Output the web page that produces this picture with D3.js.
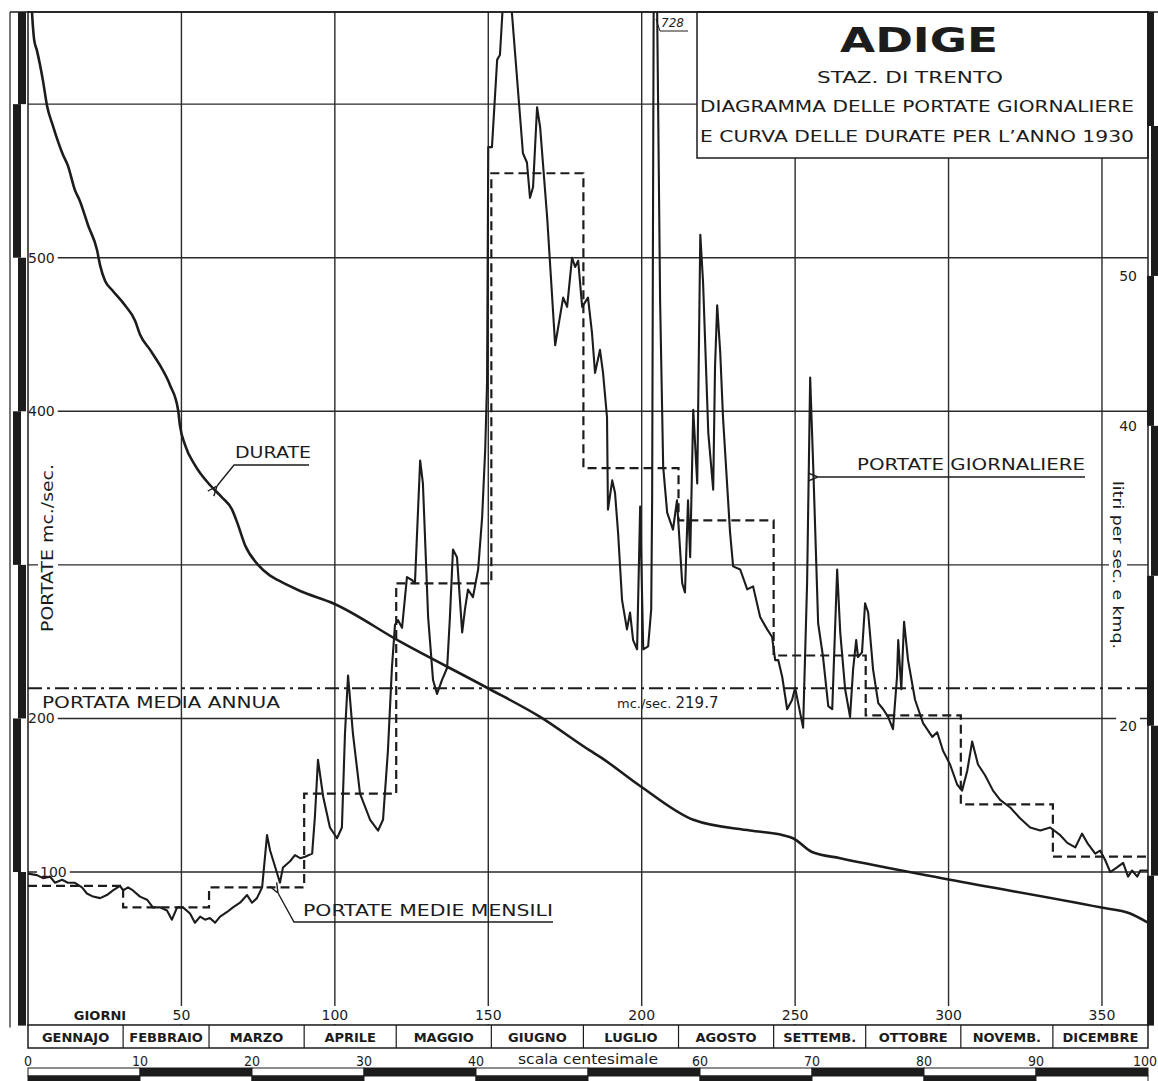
<!DOCTYPE html>
<html>
<head>
<meta charset="utf-8">
<script src="https://cdn.jsdelivr.net/npm/d3@7"></script>
<style>
  html, body { margin: 0; padding: 0; background: #fff; }
  svg { display: block; }
  text { font-family: 'DejaVu Sans', sans-serif; fill: #1c1c1c; }
</style>
</head>
<body>
<div id="chart"></div>
<script>
// Daily discharge (portate giornaliere): day of year / m3/s
const dailyDays = [0, 2.9, 4.9, 7.2, 8.8, 11.1, 13, 15.3, 17.6, 19.2, 21.2, 23.5, 25.7, 27.7, 30, 31, 32.6, 34.2, 36.5, 38.8,
  40.7, 43, 45.3, 46.9, 48.6, 50.5, 52.8, 54.4, 56.1, 57.7, 59.3, 61, 62.6, 64.9, 66.8, 69.1, 71.4, 73, 74.6, 76.3,
  77.9, 78.9, 81.2, 82.1, 83.1, 85.4, 87, 88.7, 90.3, 92.6, 93.5, 94.5, 96.2, 98.4, 100.7, 102.3, 103.3, 104.3, 105.9, 108.2,
  111.5, 114.1, 115.7, 117.3, 118.6, 119.6, 120.6, 121.9, 123.5, 125.2, 126.1, 127.8, 128.7, 130.4, 132, 133.3, 134.9, 136.6, 137.5, 138.5,
  139.8, 141.5, 142.4, 143.4, 145, 146.7, 148, 149, 149.6, 150, 151.2, 152.9, 153.8, 155.5, 156.5, 161.3, 162.6, 163.6, 164.6, 165.9,
  166.9, 169.2, 171.8, 174.4, 175.7, 177.3, 178.3, 179.3, 180.6, 182.5, 183.8, 184.8, 186.4, 187.4, 188.7, 189, 190.4, 191.3, 192.3, 193.6,
  195.2, 196.2, 197.2, 198.5, 199.5, 200.5, 202.1, 203.1, 203.4, 204, 205, 206, 207, 208.3, 210.2, 211.5, 211.9, 213.2, 214.1, 215.1,
  215.8, 216.8, 218.1, 219.1, 220, 221.7, 223.3, 223.9, 224.6, 225.6, 226.5, 228.8, 229.8, 232.1, 234.4, 236.3, 238.6, 240.9, 242.5, 243.5,
  244.5, 245.8, 247.4, 249, 250, 251, 252.6, 253.9, 254.9, 255.9, 257.5, 259.1, 260.8, 262.1, 263.7, 264.7, 266.3, 267.9, 268.9, 269.9,
  270.5, 271.8, 272.8, 273.8, 275.4, 277.1, 278.7, 280.3, 281.9, 283.2, 283.6, 284.6, 285.5, 286.8, 289.1, 291.7, 294.7, 296.3, 298.2, 300.5,
  302.8, 304.4, 306.1, 307.7, 309.6, 311.9, 314.5, 316.8, 320.1, 323.3, 326.6, 329.9, 333.1, 336.4, 338.7, 341.3, 343.5, 345.2, 347.8, 349.4,
  351, 352.7, 354.9, 356.9, 358.5, 359.8, 361.5, 362.5, 365];
const dailyFlow = [99, 98, 96, 97, 93, 95, 93, 93, 90, 86, 84, 83, 85, 88, 91, 88, 90, 88, 84, 82,
  77, 77, 75, 69, 77, 77, 73, 67, 71, 69, 70, 67, 71, 74, 77, 80, 85, 80, 83, 90,
  124, 114, 99, 93, 103, 107, 111, 109, 110, 112, 136, 173, 149, 129, 122, 129, 190, 228, 190, 151,
  134, 127, 134, 179, 233, 261, 264, 259, 292, 290, 288, 368, 353, 266, 225, 216, 225, 233, 266, 310,
  305, 256, 271, 284, 279, 297, 331, 375, 418, 572, 572, 629, 632, 690, 690, 568, 562, 539, 546, 598,
  585, 526, 443, 474, 468, 500, 494, 498, 468, 474, 451, 425, 440, 425, 396, 336, 355, 347, 321, 277,
  258, 269, 251, 245, 338, 245, 247, 271, 342, 728, 668, 472, 364, 334, 323, 342, 329, 288, 282, 342,
  305, 401, 353, 515, 484, 386, 349, 429, 469, 438, 396, 321, 299, 297, 284, 286, 266, 258, 253, 238,
  238, 227, 206, 212, 220, 210, 194, 288, 422, 364, 262, 240, 208, 206, 297, 256, 219, 201, 232, 251,
  240, 243, 275, 269, 232, 210, 206, 201, 193, 227, 251, 219, 263, 238, 212, 197, 188, 191, 179, 170,
  157, 153, 166, 185, 170, 163, 153, 147, 142, 135, 129, 127, 129, 124, 119, 116, 125, 119, 112, 114,
  108, 100, 103, 106, 97, 101, 97, 101, 101];

// Flow-duration curve (curva delle durate): days exceeded / m3/s
const durDays = [0, 1.3, 2, 2.9, 4.9, 6.2, 8.1, 11.4, 13, 15.3, 16.9, 19.6, 22.5, 23.5, 25.1, 27.4, 31.6, 34.9, 36.5, 39.8,
  43, 46.3, 48.9, 49.5, 51.2, 54.4, 59.3, 63.2, 66.5, 68.1, 70.7, 75, 78.9, 81.5, 88.7, 99.4, 121.3, 149.6, 166.9, 183.2,
  186.4, 199.5, 216.8, 235.3, 246.1, 249.3, 255.5, 264.7, 300.5, 349.4, 359.2, 365];
const durFlow = [728, 660, 642, 635, 615, 599, 586, 567, 560, 544, 537, 521, 505, 495, 485, 479, 469, 459, 450, 440,
  430, 417, 401, 391, 378, 365, 352, 344, 336, 328, 313, 300, 293, 290, 283, 275, 250, 220, 201, 179,
  175, 156, 134, 127, 124, 122, 113, 109, 95, 77, 73, 67];

// Monthly means (portate medie mensili)
const months = ['GENNAJO', 'FEBBRAIO', 'MARZO', 'APRILE', 'MAGGIO', 'GIUGNO', 'LUGLIO', 'AGOSTO', 'SETTEMB.', 'OTTOBRE', 'NOVEMB.', 'DICEMBRE'];
const monthStart = [0, 31, 59, 90, 120, 151, 181, 212, 243, 273, 304, 334];
const monthEnd = [31, 59, 90, 120, 151, 181, 212, 243, 273, 304, 334, 365];
const monthMean = [91, 77, 90, 151, 288, 555, 363, 329, 241, 202, 144, 110];

const annualMean = 219.7;
const basinArea = 9763; // km2, for the right hand scale

const dayTicks = [50, 100, 150, 200, 250, 300, 350];
const flowGrid = [100, 200, 300, 400, 500, 600];
const flowLabels = [100, 200, 400, 500];
const specLabels = [20, 40, 50];
const centLabels = [0, 10, 20, 30, 40, 60, 70, 80, 90, 100];

const W = 1158, H = 1081;
const ink = '#1c1c1c';
const plot = { left: 28, right: 1148, top: 12, bottom: 1025.6 };

const x = d3.scaleLinear().domain([0, 365]).range([plot.left, plot.right]);
const y = d3.scaleLinear().domain([0, 660]).range([plot.bottom, plot.top]);
const ySpec = d3.scaleLinear().domain([0, 660 * 1000 / basinArea]).range([plot.bottom, plot.top]);
const xCent = d3.scaleLinear().domain([0, 100]).range([plot.left, plot.right]);

const svg = d3.select('#chart').append('svg')
  .attr('width', W)
  .attr('height', H);

svg.append('rect').attr('width', W).attr('height', H).attr('fill', '#fff');

const defs = svg.append('defs');
defs.append('clipPath').attr('id', 'plotClip')
  .append('rect')
  .attr('x', plot.left).attr('y', plot.top)
  .attr('width', plot.right - plot.left).attr('height', plot.bottom - plot.top);

defs.append('marker')
  .attr('id', 'arrow')
  .attr('viewBox', '0 0 10 10')
  .attr('refX', 0).attr('refY', 5)
  .attr('markerWidth', 10).attr('markerHeight', 10)
  .attr('markerUnits', 'userSpaceOnUse')
  .attr('orient', 'auto-start-reverse')
  .append('path')
  .attr('d', 'M10,1 L0,5 L10,9')
  .attr('fill', 'none')
  .attr('stroke', ink)
  .attr('stroke-width', 1.4);

// Grid
const grid = svg.append('g').attr('stroke', '#2a2a2a').attr('stroke-width', 1.4);
grid.selectAll('.vgrid')
  .data(dayTicks)
  .enter().append('line')
  .attr('x1', d => x(d)).attr('x2', d => x(d))
  .attr('y1', plot.top).attr('y2', plot.bottom);
grid.selectAll('.hgrid')
  .data(flowGrid)
  .enter().append('line')
  .attr('x1', plot.left).attr('x2', plot.right)
  .attr('y1', d => y(d)).attr('y2', d => y(d));

// Title box
const tb = svg.append('g');
tb.append('rect')
  .attr('x', 697).attr('y', plot.top)
  .attr('width', plot.right - 697).attr('height', 146)
  .attr('fill', '#fff').attr('stroke', ink).attr('stroke-width', 1.5);
tb.append('text')
  .attr('x', 919).attr('y', 52)
  .attr('text-anchor', 'middle')
  .attr('textLength', 158).attr('lengthAdjust', 'spacingAndGlyphs')
  .style('font-size', '34px').style('font-weight', 'bold')
  .text('ADIGE');
tb.append('text')
  .attr('x', 910).attr('y', 83)
  .attr('text-anchor', 'middle')
  .attr('textLength', 186).attr('lengthAdjust', 'spacingAndGlyphs')
  .style('font-size', '15px')
  .text('STAZ. DI  TRENTO');
tb.append('text')
  .attr('x', 917).attr('y', 112)
  .attr('text-anchor', 'middle')
  .attr('textLength', 434).attr('lengthAdjust', 'spacingAndGlyphs')
  .style('font-size', '15px')
  .text('DIAGRAMMA DELLE PORTATE GIORNALIERE');
tb.append('text')
  .attr('x', 917).attr('y', 142)
  .attr('text-anchor', 'middle')
  .attr('textLength', 434).attr('lengthAdjust', 'spacingAndGlyphs')
  .style('font-size', '15px')
  .text('E CURVA DELLE DURATE PER L\u2019ANNO 1930');

// Axis labels with a white patch under them, as on the plate
function labelWithPatch(g, tx, ty, str, opts) {
  const t = g.append('text')
    .attr('x', tx).attr('y', ty)
    .attr('text-anchor', opts.anchor || 'start')
    .attr('dominant-baseline', 'central')
    .style('font-size', opts.size || '14px')
    .style('font-weight', opts.weight || 'normal')
    .text(str);
  if (opts.rotate) t.attr('transform', `rotate(${opts.rotate},${tx},${ty})`);
  if (opts.len) t.attr('textLength', opts.len).attr('lengthAdjust', 'spacingAndGlyphs');
  const bb = t.node().getBBox();
  const pad = 3;
  let r = g.insert('rect', 'text')
    .attr('x', bb.x - pad).attr('y', bb.y - 1)
    .attr('width', bb.width + pad * 2).attr('height', bb.height + 2)
    .attr('fill', '#fff');
  if (opts.rotate) r.attr('transform', `rotate(${opts.rotate},${tx},${ty})`);
  return t;
}

const labels = svg.append('g');
flowLabels.forEach(v => labelWithPatch(labels, v === 100 ? 40 : 28, y(v), String(v), { size: '14px' }));
specLabels.forEach(v => labelWithPatch(labels, 1137, ySpec(v), String(v), { size: '14px', anchor: 'end' }));
dayTicks.forEach(d => labelWithPatch(labels, x(d), 1015, String(d), { size: '14px', anchor: 'middle' }));
labelWithPatch(labels, 100, 1015, 'GIORNI', { size: '13px', weight: 'bold', anchor: 'middle' });
labelWithPatch(labels, 48, 548, 'PORTATE  mc./sec.', { size: '15px', anchor: 'middle', rotate: -90, len: 168 });
labelWithPatch(labels, 1118, 565, 'litri per sec. e kmq.', { size: '14px', anchor: 'middle', rotate: 90, len: 168 });

// Data
const data = svg.append('g').attr('clip-path', 'url(#plotClip)').attr('fill', 'none');

data.append('line')
  .attr('x1', plot.left).attr('x2', plot.right)
  .attr('y1', y(annualMean)).attr('y2', y(annualMean))
  .attr('stroke', ink).attr('stroke-width', 2)
  .attr('stroke-dasharray', '14,5,3,5');

const monthPts = [];
months.forEach((m, i) => {
  monthPts.push([monthStart[i], monthMean[i]]);
  monthPts.push([monthEnd[i], monthMean[i]]);
});
const line = d3.line().x(d => x(d[0])).y(d => y(d[1]));

data.append('path')
  .attr('d', line(monthPts))
  .attr('stroke', ink).attr('stroke-width', 2.2)
  .attr('stroke-dasharray', '9,5');

data.append('path')
  .attr('d', line.curve(d3.curveMonotoneX)(durDays.map((d, i) => [d, durFlow[i]])))
  .attr('stroke', ink).attr('stroke-width', 2.6)
  .attr('stroke-linejoin', 'round');
line.curve(d3.curveLinear);

data.append('path')
  .attr('d', line(dailyDays.map((d, i) => [d, dailyFlow[i]])))
  .attr('stroke', ink).attr('stroke-width', 2.1)
  .attr('stroke-linejoin', 'round');

// Annotations
const ann = svg.append('g');
ann.append('text').attr('x', 235).attr('y', 458)
  .attr('textLength', 76).attr('lengthAdjust', 'spacingAndGlyphs')
  .style('font-size', '15px').text('DURATE');
ann.append('path')
  .attr('d', 'M217,486 L234,465 L309,465')
  .attr('fill', 'none').attr('stroke', ink).attr('stroke-width', 1.4)
  .attr('marker-start', 'url(#arrow)');

ann.append('text').attr('x', 857).attr('y', 470)
  .attr('textLength', 228).attr('lengthAdjust', 'spacingAndGlyphs')
  .style('font-size', '15px').text('PORTATE GIORNALIERE');
ann.append('path')
  .attr('d', 'M818,477 L1085,477')
  .attr('fill', 'none').attr('stroke', ink).attr('stroke-width', 1.4)
  .attr('marker-start', 'url(#arrow)');

ann.append('text').attr('x', 303).attr('y', 916)
  .attr('textLength', 250).attr('lengthAdjust', 'spacingAndGlyphs')
  .style('font-size', '15px').text('PORTATE MEDIE MENSILI');
ann.append('path')
  .attr('d', 'M278,893 L294,922 L553,922')
  .attr('fill', 'none').attr('stroke', ink).attr('stroke-width', 1.4)
  .attr('marker-start', 'url(#arrow)');

ann.append('text').attr('x', 42).attr('y', 708)
  .attr('textLength', 238).attr('lengthAdjust', 'spacingAndGlyphs')
  .style('font-size', '15px').text('PORTATA MEDIA ANNUA');

const mean = ann.append('text').attr('x', 617).attr('y', 708).style('font-size', '13px');
mean.append('tspan').text('mc./sec. ');
mean.append('tspan').style('font-size', '15px').text(String(annualMean));

// 728 peak note
ann.append('text').attr('x', 661).attr('y', 27)
  .style('font-size', '12px').style('font-style', 'italic').text('728');
ann.append('path')
  .attr('d', 'M656,19 L660,31 L688,31')
  .attr('fill', 'none').attr('stroke', ink).attr('stroke-width', 1);

// Frame and graduated side bars
const frame = svg.append('g');
frame.append('rect')
  .attr('x', plot.left).attr('y', plot.top)
  .attr('width', plot.right - plot.left).attr('height', plot.bottom - plot.top)
  .attr('fill', 'none').attr('stroke', ink).attr('stroke-width', 1.5);
frame.append('line')
  .attr('x1', 10).attr('x2', 10).attr('y1', plot.top).attr('y2', plot.bottom + 2)
  .attr('stroke', ink).attr('stroke-width', 1.2);
frame.append('line')
  .attr('x1', 10).attr('x2', 1158).attr('y1', plot.top).attr('y2', plot.top)
  .attr('stroke', ink).attr('stroke-width', 1.5);

const leftSegs = [0, 100, 200, 300, 400, 500, 600, 660];
leftSegs.slice(0, -1).forEach((v, i) => {
  frame.append('rect')
    .attr('x', i % 2 === 0 ? 18 : 13).attr('width', 8)
    .attr('y', y(leftSegs[i + 1])).attr('height', y(v) - y(leftSegs[i + 1]))
    .attr('fill', ink);
});
const specMax = 660 * 1000 / basinArea;
const rightSegs = [0, 10, 20, 30, 40, 50, 60, specMax];
rightSegs.slice(0, -1).forEach((v, i) => {
  frame.append('rect')
    .attr('x', i % 2 === 0 ? 1147 : 1151).attr('width', 7)
    .attr('y', ySpec(rightSegs[i + 1])).attr('height', ySpec(v) - ySpec(rightSegs[i + 1]))
    .attr('fill', ink);
});

// Month row
const mrow = svg.append('g');
mrow.append('rect')
  .attr('x', plot.left).attr('y', 1025)
  .attr('width', plot.right - plot.left).attr('height', 23)
  .attr('fill', '#fff').attr('stroke', ink).attr('stroke-width', 1.5);
mrow.selectAll('.mdiv')
  .data(monthStart.slice(1))
  .enter().append('line')
  .attr('x1', d => x(d)).attr('x2', d => x(d))
  .attr('y1', 1025).attr('y2', 1048)
  .attr('stroke', ink).attr('stroke-width', 1.2);
mrow.selectAll('.mname')
  .data(months)
  .enter().append('text')
  .attr('x', (d, i) => (x(monthStart[i]) + x(monthEnd[i])) / 2)
  .attr('y', 1042)
  .attr('text-anchor', 'middle')
  .style('font-size', '13px').style('font-weight', 'bold')
  .text(d => d);

// Centesimal scale
const cent = svg.append('g');
cent.selectAll('.clab')
  .data(centLabels)
  .enter().append('text')
  .attr('x', d => d === 100 ? W - 1 : xCent(d)).attr('y', 1066)
  .attr('text-anchor', d => d === 100 ? 'end' : 'middle')
  .style('font-family', "'DejaVu Sans Condensed', 'Liberation Sans Narrow', sans-serif")
  .style('font-size', '14px')
  .text(d => d);
cent.append('text')
  .attr('x', xCent(50)).attr('y', 1064)
  .attr('text-anchor', 'middle')
  .attr('textLength', 140).attr('lengthAdjust', 'spacingAndGlyphs')
  .style('font-family', "'DejaVu Sans Condensed', 'Liberation Sans Narrow', sans-serif")
  .style('font-size', '14px')
  .text('scala centesimale');

const steps = d3.range(0, 100, 10);
cent.selectAll('.ctop')
  .data(steps)
  .enter().append('rect')
  .attr('x', d => xCent(d)).attr('width', d => xCent(d + 10) - xCent(d))
  .attr('y', 1068).attr('height', 8)
  .attr('fill', (d, i) => i % 2 ? ink : '#fff')
  .attr('stroke', ink).attr('stroke-width', 1);
cent.selectAll('.cbot')
  .data(steps)
  .enter().append('rect')
  .attr('x', d => xCent(d)).attr('width', d => xCent(d + 10) - xCent(d))
  .attr('y', 1076).attr('height', 8)
  .attr('fill', (d, i) => i % 2 ? '#fff' : ink)
  .attr('stroke', ink).attr('stroke-width', 1);
</script>
</body>
</html>
